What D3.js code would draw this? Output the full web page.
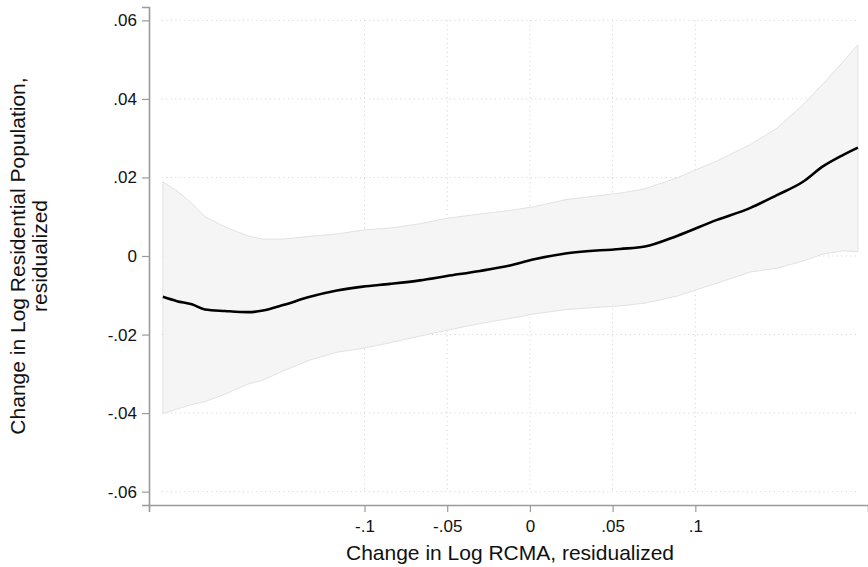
<!DOCTYPE html>
<html>
<head>
<meta charset="utf-8">
<script src="https://cdn.jsdelivr.net/npm/d3@7"></script>
<style>
  body { margin:0; background:#fff; }
  svg text { font-family: "Liberation Sans", Arial, Helvetica, sans-serif; fill:#111; }
</style>
</head>
<body>
<div id="chart"></div>
<script>
// local polynomial fit with 95% CI band
const xVals = [-0.2219, -0.2134, -0.2044, -0.1965, -0.1844, -0.1705, -0.1614, -0.1493, -0.1330, -0.1167,
               -0.1010, -0.0846, -0.0665, -0.0502, -0.0302, -0.0121, 0.0018, 0.0224, 0.0544, 0.0695,
               0.0889, 0.1131, 0.1330, 0.1493, 0.1651, 0.1771, 0.1892, 0.1983];
const fitVals = [-0.0104, -0.0115, -0.0123, -0.0136, -0.0140, -0.0143, -0.0139, -0.0125, -0.0104, -0.0088,
                 -0.0078, -0.0071, -0.0062, -0.0051, -0.0038, -0.0024, -0.0009, 0.0007, 0.0018, 0.0024,
                 0.0051, 0.0092, 0.0122, 0.0155, 0.0189, 0.0228, 0.0257, 0.0276];
const upperVals = [0.0189, 0.0166, 0.0134, 0.0100, 0.0074, 0.0051, 0.0043, 0.0043, 0.0050, 0.0056,
                   0.0066, 0.0071, 0.0082, 0.0096, 0.0107, 0.0116, 0.0125, 0.0144, 0.0160, 0.0171,
                   0.0199, 0.0242, 0.0283, 0.0325, 0.0385, 0.0438, 0.0494, 0.0538];
const lowerVals = [-0.0401, -0.0390, -0.0378, -0.0371, -0.0352, -0.0326, -0.0316, -0.0293, -0.0265, -0.0245,
                   -0.0235, -0.0221, -0.0204, -0.0189, -0.0172, -0.0159, -0.0148, -0.0136, -0.0127, -0.0120,
                   -0.0102, -0.0069, -0.0041, -0.0031, -0.0013, 0.0005, 0.0013, 0.0011];

const xTicks = [-0.1, -0.05, 0, 0.05, 0.1];
const yTicks = [-0.06, -0.04, -0.02, 0, 0.02, 0.04, 0.06];

// stata style labels: drop leading zero
const fmt = v => v === 0 ? '0' : String(+v.toFixed(2)).replace(/^(-?)0\./, '$1.');

const width = 868, height = 567;
const svg = d3.select('#chart').append('svg')
  .attr('width', width)
  .attr('height', height);

const x = d3.scaleLinear().domain([-0.2303, 0.2044]).range([149, 868]);
const y = d3.scaleLinear().domain([-0.0634, 0.0634]).range([505, 7]);

const data = xVals.map((v, i) => ({x: v, fit: fitVals[i], lo: lowerVals[i], hi: upperVals[i]}));
const x0 = x(xVals[0]) - 1, x1 = x(xVals[xVals.length - 1]);

// grid
const grid = svg.append('g')
  .attr('stroke', '#cfcfcf')
  .attr('stroke-width', 1)
  .attr('stroke-dasharray', '1,3.5');
grid.selectAll('.gy').data(yTicks).enter().append('line')
  .attr('x1', x0).attr('x2', x1)
  .attr('y1', d => y(d)).attr('y2', d => y(d));
grid.selectAll('.gx').data(xTicks).enter().append('line')
  .attr('x1', d => x(d)).attr('x2', d => x(d))
  .attr('y1', y(0.06)).attr('y2', y(-0.06));

// CI band
const area = d3.area()
  .x(d => x(d.x))
  .y0(d => y(d.lo))
  .y1(d => y(d.hi));
svg.append('path')
  .datum(data)
  .attr('d', area)
  .attr('fill', '#f4f4f4')
  .attr('fill-opacity', 0.9)
  .attr('stroke', '#e2e2e2')
  .attr('stroke-width', 1);

// fitted line
svg.append('path')
  .datum(data)
  .attr('d', d3.line().x(d => x(d.x)).y(d => y(d.fit)).curve(d3.curveMonotoneX))
  .attr('fill', 'none')
  .attr('stroke', '#000')
  .attr('stroke-width', 2.6);

// axes
const yAxis = svg.append('g')
  .attr('transform', 'translate(149,0)')
  .call(d3.axisLeft(y).tickValues(yTicks).tickFormat(fmt).tickSize(7).tickPadding(5));
const xAxis = svg.append('g')
  .attr('transform', 'translate(0,505)')
  .call(d3.axisBottom(x).tickValues(xTicks).tickFormat(fmt).tickSize(7).tickPadding(8));

[xAxis, yAxis].forEach(a => {
  a.select('.domain').attr('stroke', '#9a9a9a').attr('stroke-width', 1.6);
  a.selectAll('.tick line').attr('stroke', '#9a9a9a').attr('stroke-width', 1.2);
  a.selectAll('.tick text').attr('font-size', '17px').attr('fill', '#111');
});

// axis titles
svg.append('text')
  .attr('x', 510)
  .attr('y', 560)
  .attr('text-anchor', 'middle')
  .attr('font-size', '21px')
  .text('Change in Log RCMA, residualized');

const yt = svg.append('text')
  .attr('transform', 'translate(25,256) rotate(-90)')
  .attr('text-anchor', 'middle')
  .attr('font-size', '21px');
yt.append('tspan').attr('x', 0).attr('dy', 0).text('Change in Log Residential Population,');
yt.append('tspan').attr('x', 0).attr('dy', 22).text('residualized');
</script>
</body>
</html>
